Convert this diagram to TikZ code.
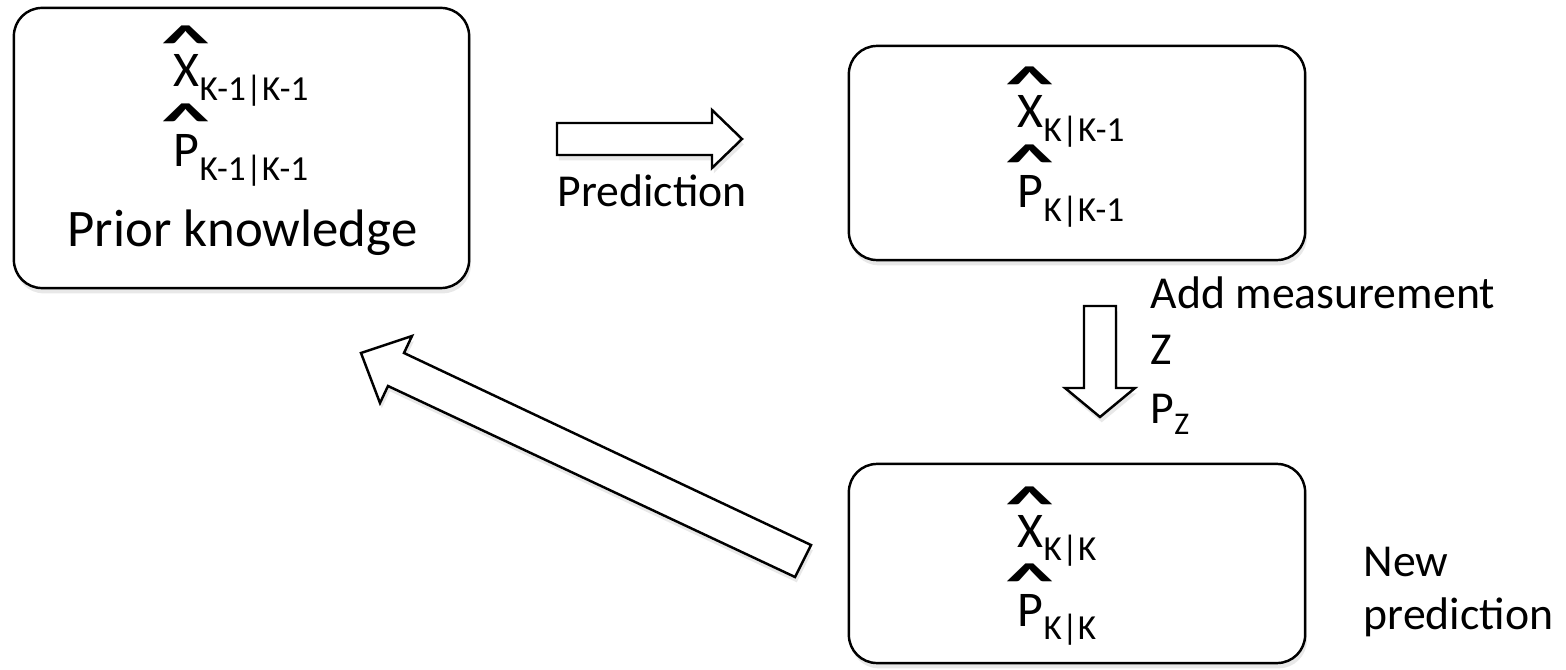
\documentclass[tikz,border=0pt]{standalone}
\usepackage{fontspec}
\setmainfont{Carlito}
\usetikzlibrary{shadows}
\newcommand{\fsz}[1]{\fontsize{#1}{#1}\selectfont}
\newcommand{\hatsym}{\scalebox{1.4}[0.7]{\fsz{20pt}\bfseries\textasciicircum}}
\newcommand{\sym}[2]{{\fsz{14.2pt}#1}\raisebox{-3.7pt}{\fsz{10pt}#2}}
\begin{document}
\begin{tikzpicture}[x=0.01cm,y=-0.01cm,
  box/.style={draw, line width=0.7pt, rounded corners=8pt, fill=white,
    inner sep=0pt, drop shadow={shadow xshift=0.5pt, shadow yshift=-1.5pt, opacity=0.18}},
  blockarrow/.style={draw, line width=0.7pt, fill=white, line join=miter,
    drop shadow={shadow xshift=0.5pt, shadow yshift=-1.5pt, opacity=0.18}},
  txt/.style={inner sep=0pt, anchor=base west, font=\fsz{13pt}},
  hatm/.style={inner sep=0pt, anchor=base},
  symb/.style={inner sep=0pt, anchor=base west}]
\useasboundingbox (0,0) rectangle (1566,670);
\fill[white] (0,0) rectangle (1566,670);

% boxes
\node[box, minimum width=4.55cm, minimum height=2.80cm] (b1) at (241.5,148) {};
\node[box, minimum width=4.56cm, minimum height=2.14cm] (b2) at (1077,153) {};
\node[box, minimum width=4.56cm, minimum height=1.99cm] (b3) at (1077,563.5) {};

% box 1 content
\node[hatm] (h1a) at (186.5,60) {\hatsym};
\node[symb] (x1) at (173,87) {\sym{X}{K-1|K-1}};
\node[hatm] (h1b) at (186.5,138) {\hatsym};
\node[symb] (p1) at (173,167) {\sym{P}{K-1|K-1}};
\node[inner sep=0pt, anchor=base, font=\fsz{15pt}] (prior) at (242.5,247) {Prior knowledge};

% box 2 content
\node[hatm] (h2a) at (1030.5,101) {\hatsym};
\node[symb] (x2) at (1017,128) {\sym{X}{K|K-1}};
\node[hatm] (h2b) at (1030.5,179) {\hatsym};
\node[symb] (p2) at (1017,208) {\sym{P}{K|K-1}};

% box 3 content
\node[hatm] (h3a) at (1030.5,520) {\hatsym};
\node[symb] (x3) at (1017,547) {\sym{X}{K|K}};
\node[hatm] (h3b) at (1030.5,597) {\hatsym};
\node[symb] (p3) at (1017,626) {\sym{P}{K|K}};

% block arrows
\draw[blockarrow] (557,123) -- (712,123) -- (712,110) -- (742,139) -- (712,168) -- (712,155) -- (557,155) -- cycle;
\draw[blockarrow] (1084,306) -- (1116,306) -- (1116,388) -- (1135,388) -- (1100,417) -- (1065,388) -- (1084,388) -- cycle;
\draw[blockarrow] (361,353) -- (412,336) -- (404,353) -- (811,545) -- (795,577) -- (388,386) -- (380,403) -- cycle;

% labels
\node[txt] (pred) at (557,207) {Prediction};
\node[txt] (addm) at (1150,309) {Add measurement};
\node[txt] (zz) at (1150,365) {Z};
\node[symb] (pz) at (1150,423) {{\fsz{13pt}P}\raisebox{-3.4pt}{\fsz{9pt}Z}};
\node[txt] (new) at (1363,576) {New};
\node[txt] (newp) at (1363,629) {prediction};
\end{tikzpicture}
\end{document}
